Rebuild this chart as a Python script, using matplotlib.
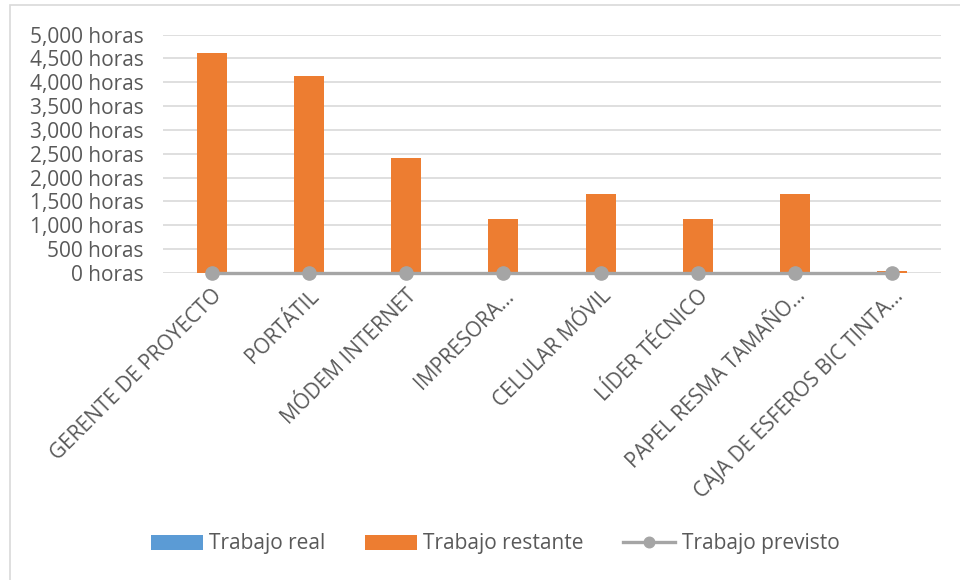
import numpy as np
import matplotlib.pyplot as plt
from matplotlib.ticker import FuncFormatter, MultipleLocator
from matplotlib.patches import Rectangle

# datos del gráfico
categorias = ['GERENTE DE PROYECTO', 'PORTÁTIL', 'MÓDEM INTERNET', 'IMPRESORA...',
              'CELULAR MÓVIL', 'LÍDER TÉCNICO', 'PAPEL RESMA TAMAÑO...',
              'CAJA DE ESFEROS BIC TINTA...']
trabajo_real = [0, 0, 0, 0, 0, 0, 0, 0]
trabajo_restante = [4620, 4120, 2410, 1140, 1660, 1140, 1660, 40]
trabajo_previsto = [0, 0, 0, 0, 0, 0, 0, 0]

AZUL = '#5B9BD5'
NARANJA = '#ED7D31'
GRIS = '#A5A5A5'
TEXTO = '#595959'

plt.rcParams['font.family'] = ['Open Sans', 'DejaVu Sans']

fig = plt.figure(figsize=(9.6, 5.8), dpi=100)
ax = fig.add_axes([163 / 960, 1 - 273 / 580, (941 - 163) / 960, (273 - 34.5) / 580])

x = np.arange(len(categorias))
ancho = 0.31

# columnas apiladas
h1 = ax.bar(x, trabajo_real, ancho, color=AZUL, label='Trabajo real', zorder=2)
h2 = ax.bar(x, trabajo_restante, ancho, bottom=trabajo_real, color=NARANJA,
            label='Trabajo restante', zorder=2)
h3, = ax.plot(x, trabajo_previsto, color=GRIS, lw=2.4, marker='o', ms=9.5,
              label='Trabajo previsto', zorder=3, clip_on=False)

ax.set_xlim(-0.5, len(categorias) - 0.5)
ax.set_ylim(0, 5000)
ax.yaxis.set_major_locator(MultipleLocator(500))
ax.yaxis.set_major_formatter(FuncFormatter(lambda v, p: f'{int(v):,} horas'))
ax.grid(axis='y', color='#D9D9D9', lw=1.2, zorder=0)
ax.set_axisbelow(True)

for s in ax.spines.values():
    s.set_visible(False)
ax.tick_params(axis='both', length=0, colors=TEXTO, labelsize=15)
ax.tick_params(axis='y', pad=14)
ax.set_xticks(x)
ax.set_xticklabels(categorias, rotation=45, ha='right', va='top',
                   rotation_mode='anchor', color=TEXTO)
ax.tick_params(axis='x', pad=9)

# leyenda inferior
fig.legend([h1, h2, h3], ['Trabajo real', 'Trabajo restante', 'Trabajo previsto'],
           loc='center', bbox_to_anchor=(495 / 960, 1 - 544 / 580), ncol=3,
           frameon=False, fontsize=15, labelcolor=TEXTO, handlelength=2.5,
           handleheight=0.7, handletextpad=0.3, columnspacing=1.9,
           markerscale=0.8)

# borde del área del gráfico
fig.patches.append(Rectangle((10 / 960, -0.01), 1.0, 1 - 5 / 580 + 0.01,
                             transform=fig.transFigure, fill=False,
                             edgecolor='#D9D9D9', lw=1.2))

fig.savefig('out.png', dpi=100)
